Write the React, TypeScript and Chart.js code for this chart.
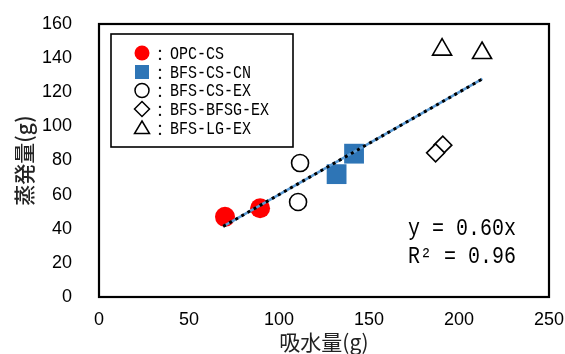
import React, { useEffect, useRef } from "react";
import { Chart, registerables } from "chart.js";

Chart.register(...registerables);

// ---- data ----
const opcX = [70, 89.5];
const opcY = [47, 52];
const cnX = [132, 141.7];
const cnY = [72, 84];
const exX = [111.7, 110.6];
const exY = [78.5, 55.7];
const bfsgX = [191, 187];
const bfsgY = [89, 84.5];
const lgX = [190.6, 212.8];
const lgY = [145, 143];
const trendX = [69, 213];
const trendY = [41.4, 127.8];

const xTicks = [0, 50, 100, 150, 200, 250];
const yTicks = [0, 20, 40, 60, 80, 100, 120, 140, 160];
const seriesNames = ["OPC-CS", "BFS-CS-CN", "BFS-CS-EX", "BFS-BFSG-EX", "BFS-LG-EX"];
const equationLines = ["y = 0.60x", "R² = 0.96"];
const xTitle = "吸水量(g)";
const yTitle = "蒸発量(g)";

const pts = (xs: number[], ys: number[]) => xs.map((x, i) => ({ x, y: ys[i] }));

const RED = "#FF0000";
const BLUE = "#2E75B6";
const LIGHTBLUE = "#5B9BD5";

function drawMarker(ctx: CanvasRenderingContext2D, kind: number, x: number, y: number) {
  ctx.save();
  ctx.lineWidth = 1.5;
  ctx.strokeStyle = "#000";
  ctx.fillStyle = "#fff";
  ctx.beginPath();
  if (kind === 0) {
    ctx.fillStyle = RED;
    ctx.arc(x, y, 7.5, 0, Math.PI * 2);
    ctx.fill();
  } else if (kind === 1) {
    ctx.fillStyle = BLUE;
    ctx.fillRect(x - 7, y - 7, 14, 14);
  } else if (kind === 2) {
    ctx.arc(x, y, 7, 0, Math.PI * 2);
    ctx.fill();
    ctx.stroke();
  } else if (kind === 3) {
    ctx.moveTo(x, y - 7.5);
    ctx.lineTo(x + 7.5, y);
    ctx.lineTo(x, y + 7.5);
    ctx.lineTo(x - 7.5, y);
    ctx.closePath();
    ctx.fill();
    ctx.stroke();
  } else {
    ctx.moveTo(x, y - 7);
    ctx.lineTo(x + 7.5, y + 5.5);
    ctx.lineTo(x - 7.5, y + 5.5);
    ctx.closePath();
    ctx.fill();
    ctx.stroke();
  }
  ctx.restore();
}

const framePlugin = {
  id: "frame",
  beforeDatasetsDraw(chart: any) {
    const { ctx, chartArea } = chart;
    ctx.save();
    ctx.strokeStyle = "#000";
    ctx.lineWidth = 2.2;
    ctx.strokeRect(chartArea.left, chartArea.top, chartArea.right - chartArea.left, chartArea.bottom - chartArea.top);
    ctx.restore();
  },
  afterDatasetsDraw(chart: any) {
    const { ctx, chartArea } = chart;
    const L = chartArea.left;
    const T = chartArea.top;
    ctx.save();
    // legend box
    ctx.fillStyle = "#fff";
    ctx.fillRect(L + 12, T + 10, 182, 113);
    ctx.strokeStyle = "#000";
    ctx.lineWidth = 1.6;
    ctx.strokeRect(L + 12, T + 10, 182, 113);
    const rowY = [29, 48, 66.5, 85, 104];
    seriesNames.forEach((name, i) => {
      const y = T + rowY[i];
      drawMarker(ctx, i, L + 43, y);
      ctx.fillStyle = "#000";
      ctx.textBaseline = "middle";
      ctx.font = "15px 'Noto Sans CJK JP'";
      ctx.textAlign = "center";
      ctx.fillText("：", L + 61, y + 1);
      ctx.textAlign = "left";
      ctx.save();
      ctx.translate(L + 71, y + 1);
      ctx.scale(1, 1.2);
      ctx.font = "15px 'Liberation Mono', monospace";
      ctx.fillText(name, 0, 0);
      ctx.restore();
    });
    // regression equation
    ctx.fillStyle = "#000";
    ctx.textAlign = "left";
    ctx.textBaseline = "alphabetic";
    ctx.font = "20px 'Liberation Mono', monospace";
    ctx.save();
    ctx.translate(L + 309, T + 211);
    ctx.scale(1, 1.15);
    ctx.fillText(equationLines[0], 0, 0);
    ctx.restore();
    ctx.save();
    ctx.translate(L + 309, T + 239);
    ctx.scale(1, 1.15);
    ctx.fillText(equationLines[1], 0, 0);
    ctx.restore();
    ctx.restore();
  },
};

export default function App() {
  const ref = useRef<HTMLCanvasElement>(null);
  useEffect(() => {
    if (!ref.current) return;
    const tickFont = { family: "'Liberation Sans Narrow', 'Liberation Sans', sans-serif", size: 18 };
    const xTitleFont = { family: "'Noto Sans CJK JP', sans-serif", size: 21, weight: "normal" };
    const yTitleFont = { family: "'Noto Sans CJK JP', sans-serif", size: 21, weight: "500" };
    const chart = new Chart(ref.current, {
      type: "scatter",
      data: {
        datasets: [
          {
            label: "trend-blue",
            data: pts(trendX, trendY),
            showLine: true,
            borderColor: LIGHTBLUE,
            borderWidth: 2.5,
            pointRadius: 0,
            order: 1,
          } as any,
          {
            label: "trend-black",
            data: pts(trendX, trendY),
            showLine: true,
            borderColor: "#000",
            borderWidth: 3,
            borderDash: [3, 4],
            pointRadius: 0,
            order: 0,
          } as any,
          {
            label: seriesNames[0],
            data: pts(opcX, opcY),
            pointStyle: "circle",
            pointRadius: 10,
            backgroundColor: RED,
            borderColor: RED,
            borderWidth: 0,
            order: 2,
          },
          {
            label: seriesNames[1],
            data: pts(cnX, cnY),
            pointStyle: "rect",
            pointRadius: 14,
            backgroundColor: BLUE,
            borderColor: BLUE,
            borderWidth: 0,
            order: 2,
          },
          {
            label: seriesNames[2],
            data: pts(exX, exY),
            pointStyle: "circle",
            pointRadius: 8.5,
            backgroundColor: "#fff",
            borderColor: "#000",
            borderWidth: 1.6,
            order: 2,
          },
          {
            label: seriesNames[3],
            data: pts(bfsgX, bfsgY),
            pointStyle: "rectRot",
            pointRadius: 9,
            backgroundColor: "#fff",
            borderColor: "#000",
            borderWidth: 1.6,
            order: 2,
          },
          {
            label: seriesNames[4],
            data: pts(lgX, lgY),
            pointStyle: "triangle",
            pointRadius: 11,
            backgroundColor: "#fff",
            borderColor: "#000",
            borderWidth: 1.6,
            order: 2,
          },
        ],
      },
      options: {
        animation: false,
        responsive: false,
        maintainAspectRatio: false,
        layout: { padding: { top: 24, right: 16, bottom: 0, left: 0 } },
        plugins: { legend: { display: false }, tooltip: { enabled: false } },
        scales: {
          x: {
            type: "linear",
            min: 0,
            max: 250,
            afterBuildTicks: (s: any) => {
              s.ticks = xTicks.map((v) => ({ value: v }));
            },
            afterFit: (s: any) => {
              s.height = 57;
              s.paddingLeft = 0;
              s.paddingRight = 0;
              s.paddingTop = 0;
              s.paddingBottom = 0;
            },
            grid: { display: false, drawTicks: false },
            border: { display: false },
            ticks: { font: tickFont, color: "#000", padding: 12, maxRotation: 0, autoSkip: false },
            title: { display: true, text: xTitle, font: xTitleFont, color: "#222", padding: { top: 0, bottom: -1 } },
          },
          y: {
            type: "linear",
            min: 0,
            max: 160,
            afterBuildTicks: (s: any) => {
              s.ticks = yTicks.map((v) => ({ value: v }));
            },
            afterFit: (s: any) => {
              s.width = 99;
              s.paddingLeft = 0;
              s.paddingRight = 0;
              s.paddingTop = 0;
              s.paddingBottom = 0;
            },
            grid: { display: false, drawTicks: false },
            border: { display: false },
            ticks: { font: tickFont, color: "#000", padding: 27, autoSkip: false },
            title: { display: true, text: yTitle, font: yTitleFont, color: "#222", padding: { top: 11, bottom: 0 } },
          },
        },
      } as any,
      plugins: [framePlugin],
    });
    return () => chart.destroy();
  }, []);
  return (
    <div style={{ position: "fixed", left: 0, top: 0, width: 565, height: 354, background: "#fff" }}>
      <canvas ref={ref} width={565} height={354} style={{ display: "block", width: 565, height: 354 }} />
    </div>
  );
}
